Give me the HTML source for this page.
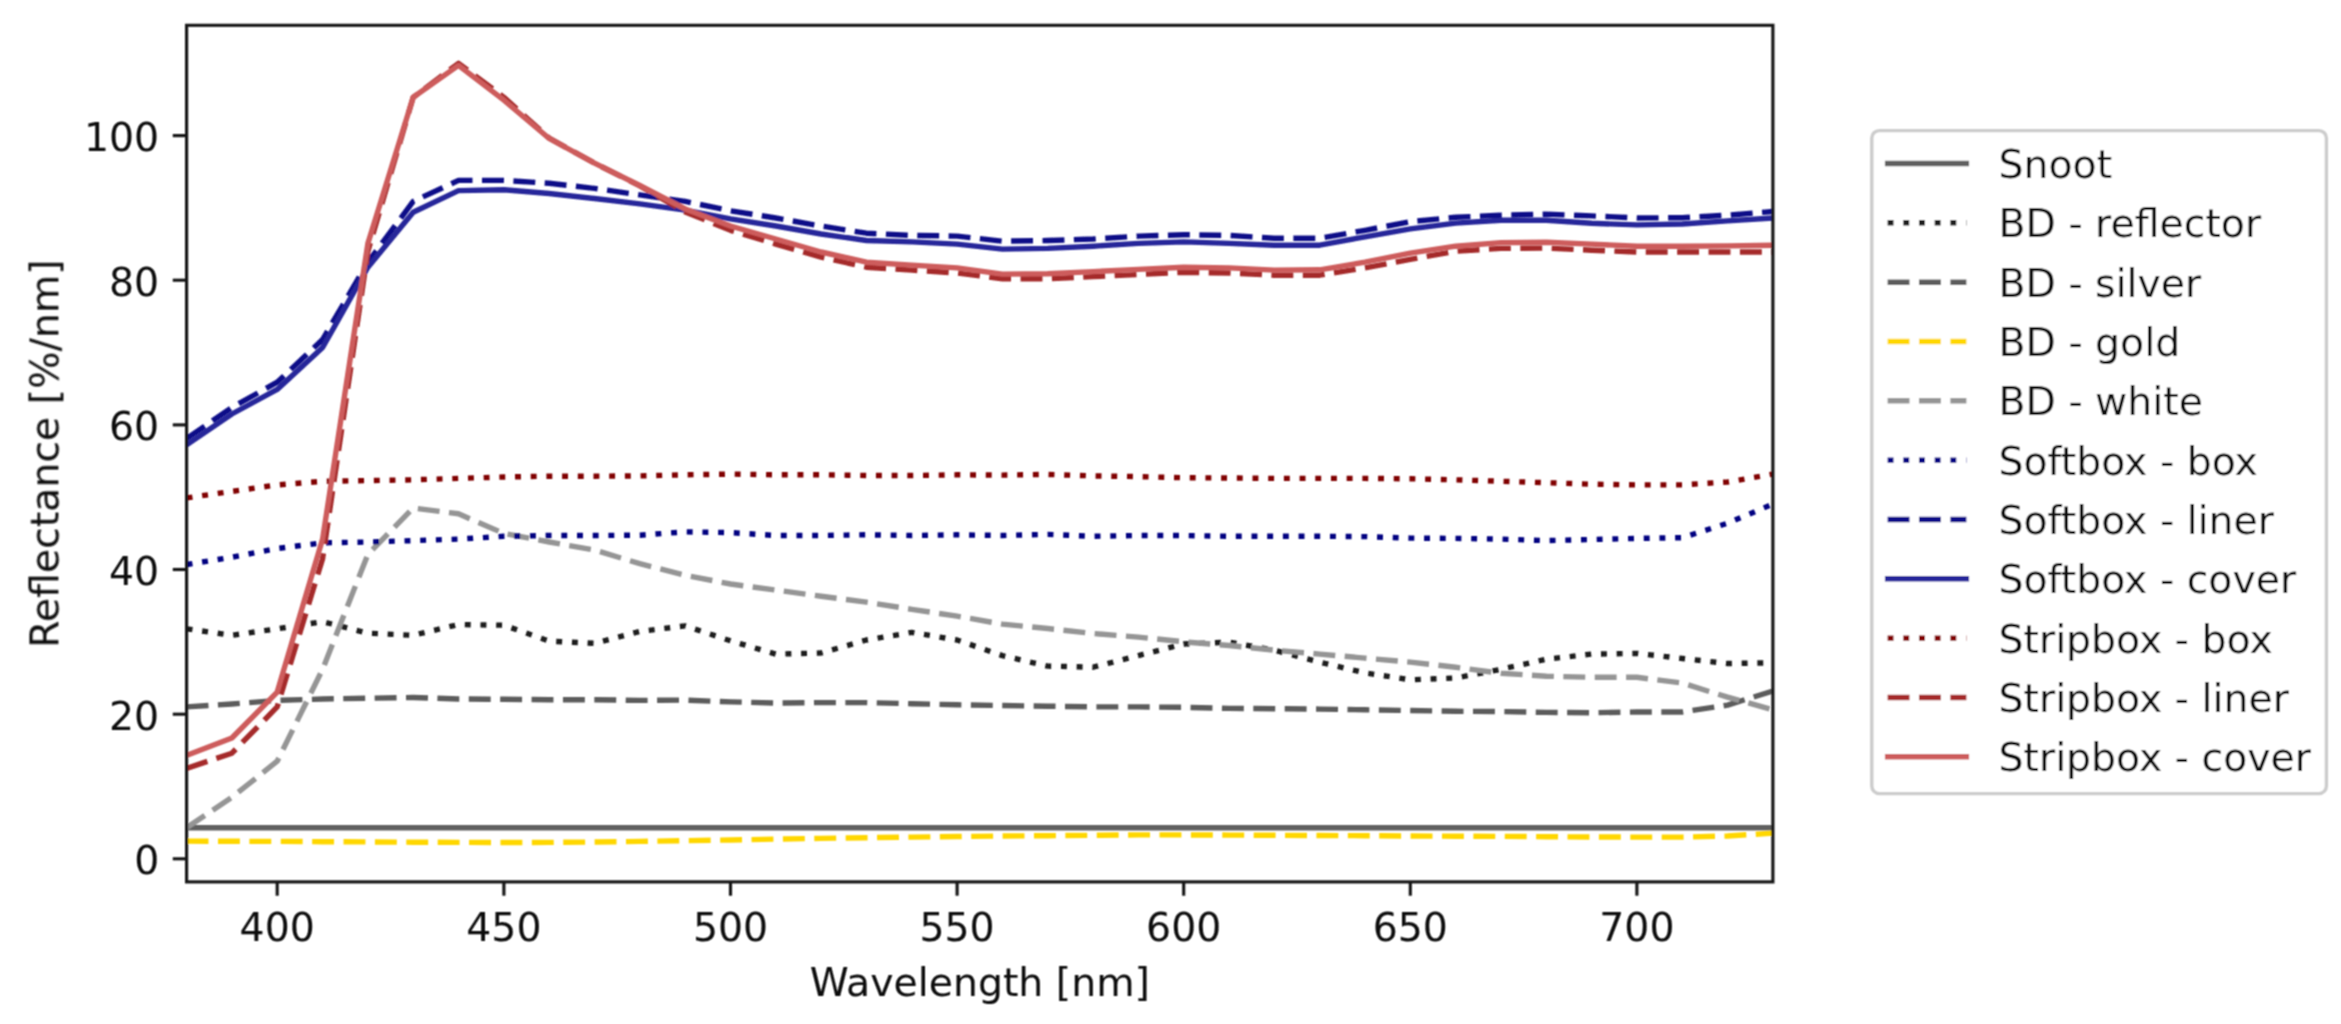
<!DOCTYPE html>
<html><head><meta charset="utf-8"><title>Reflectance</title>
<style>
html,body{margin:0;padding:0;background:#fff;}
body{width:2341px;height:1024px;overflow:hidden;}
svg{display:block;}
svg text{font-family:"DejaVu Sans","Liberation Sans",sans-serif;font-size:39.4px;fill:#0c0c0c;}
</style></head><body>
<svg width="2341" height="1024" viewBox="0 0 2341 1024">
<defs><clipPath id="ax"><rect x="186.6" y="25.3" width="1586.3" height="856.6"/></clipPath><filter id="bl" x="-2%" y="-2%" width="104%" height="104%"><feConvolveMatrix order="3" kernelMatrix="1 2 1 2 4 2 1 2 1" divisor="16" edgeMode="duplicate" preserveAlpha="false"/></filter></defs>
<rect width="2341" height="1024" fill="#fff"/>
<g filter="url(#bl)">
<g clip-path="url(#ax)" fill="none" stroke-width="5.40" stroke-linejoin="round">
<polyline points="186.6,827.7 231.9,827.7 277.2,827.7 322.6,827.7 367.9,827.7 413.2,827.7 458.5,827.7 503.9,827.7 549.2,827.7 594.5,827.7 639.8,827.7 685.2,827.7 730.5,827.7 775.8,827.7 821.1,827.7 866.4,827.7 911.8,827.7 957.1,827.7 1002.4,827.7 1047.7,827.7 1093.1,827.7 1138.4,827.7 1183.7,827.7 1229.0,827.7 1274.3,827.7 1319.7,827.7 1365.0,827.7 1410.3,827.7 1455.6,827.7 1501.0,827.7 1546.3,827.7 1591.6,827.7 1636.9,827.7 1682.3,827.7 1727.6,827.7 1772.9,827.7" stroke="#606060" stroke-linecap="square"/>
<polyline points="186.6,628.8 231.9,635.3 277.2,628.8 322.6,621.6 367.9,633.2 413.2,635.3 458.5,624.5 503.9,625.2 549.2,641.1 594.5,643.3 639.8,631.4 685.2,625.9 730.5,640.8 775.8,654.1 821.1,653.0 866.4,640.0 911.8,632.4 957.1,640.0 1002.4,655.6 1047.7,666.1 1093.1,667.2 1138.4,655.6 1183.7,644.0 1229.0,642.2 1274.3,650.2 1319.7,662.1 1365.0,672.9 1410.3,679.8 1455.6,678.0 1501.0,669.3 1546.3,659.2 1591.6,654.1 1636.9,653.4 1682.3,658.5 1727.6,663.5 1772.9,662.8" stroke="#1a1a1a" stroke-dasharray="5.922 9.771" stroke-linecap="butt"/>
<polyline points="186.6,706.9 231.9,704.0 277.2,700.4 322.6,699.0 367.9,698.2 413.2,697.5 458.5,699.0 503.9,699.3 549.2,699.7 594.5,699.7 639.8,700.4 685.2,700.1 730.5,701.9 775.8,703.0 821.1,702.6 866.4,702.6 911.8,703.7 957.1,704.8 1002.4,705.5 1047.7,706.2 1093.1,706.9 1138.4,706.9 1183.7,707.3 1229.0,708.4 1274.3,708.7 1319.7,709.1 1365.0,709.8 1410.3,710.5 1455.6,711.3 1501.0,711.6 1546.3,712.4 1591.6,712.7 1636.9,712.0 1682.3,712.0 1727.6,705.1 1772.9,691.0" stroke="#5b5b5b" stroke-dasharray="21.911 9.475" stroke-linecap="butt"/>
<polyline points="186.6,841.1 231.9,841.3 277.2,841.4 322.6,841.7 367.9,841.9 413.2,842.2 458.5,842.4 503.9,842.5 549.2,842.4 594.5,842.0 639.8,841.4 685.2,840.7 730.5,840.0 775.8,839.1 821.1,838.4 866.4,837.7 911.8,837.1 957.1,836.5 1002.4,836.0 1047.7,835.7 1093.1,835.3 1138.4,834.9 1183.7,834.9 1229.0,835.1 1274.3,835.3 1319.7,835.5 1365.0,835.7 1410.3,836.0 1455.6,836.2 1501.0,836.4 1546.3,836.7 1591.6,837.0 1636.9,837.1 1682.3,837.1 1727.6,836.0 1772.9,833.1" stroke="#ffd700" stroke-dasharray="21.911 9.475" stroke-linecap="butt"/>
<polyline points="186.6,827.7 231.9,797.3 277.2,761.2 322.6,669.3 367.9,554.3 413.2,508.0 458.5,513.8 503.9,533.4 549.2,542.0 594.5,550.0 639.8,563.7 685.2,575.3 730.5,584.0 775.8,590.1 821.1,596.3 866.4,602.1 911.8,609.3 957.1,616.2 1002.4,624.1 1047.7,628.5 1093.1,633.5 1138.4,637.1 1183.7,641.8 1229.0,645.5 1274.3,650.2 1319.7,654.1 1365.0,658.1 1410.3,662.1 1455.6,667.2 1501.0,673.3 1546.3,676.2 1591.6,677.3 1636.9,677.3 1682.3,683.1 1727.6,697.2 1772.9,709.8" stroke="#959595" stroke-dasharray="21.911 9.475" stroke-linecap="butt"/>
<polyline points="186.6,564.5 231.9,557.2 277.2,548.5 322.6,542.8 367.9,542.0 413.2,540.6 458.5,539.1 503.9,536.3 549.2,535.5 594.5,535.5 639.8,535.2 685.2,531.9 730.5,532.6 775.8,535.5 821.1,535.5 866.4,534.8 911.8,535.5 957.1,534.8 1002.4,535.5 1047.7,534.4 1093.1,536.3 1138.4,535.5 1183.7,535.5 1229.0,536.3 1274.3,536.3 1319.7,536.3 1365.0,536.6 1410.3,538.1 1455.6,538.4 1501.0,539.1 1546.3,540.6 1591.6,539.5 1636.9,538.4 1682.3,537.7 1727.6,523.2 1772.9,504.1" stroke="#000080" stroke-dasharray="5.922 9.771" stroke-linecap="butt"/>
<polyline points="186.6,438.6 231.9,407.5 277.2,382.2 322.6,339.5 367.9,262.2 413.2,201.4 458.5,180.4 503.9,180.4 549.2,183.3 594.5,188.4 639.8,194.9 685.2,201.4 730.5,210.8 775.8,218.0 821.1,226.0 866.4,233.2 911.8,235.4 957.1,236.1 1002.4,241.2 1047.7,240.5 1093.1,239.0 1138.4,236.1 1183.7,234.7 1229.0,235.4 1274.3,238.3 1319.7,238.3 1365.0,230.3 1410.3,221.7 1455.6,217.3 1501.0,215.2 1546.3,214.1 1591.6,215.9 1636.9,218.0 1682.3,217.7 1727.6,215.2 1772.9,211.5" stroke="#111188" stroke-dasharray="21.911 9.475" stroke-linecap="butt"/>
<polyline points="186.6,444.8 231.9,414.0 277.2,389.4 322.6,347.5 367.9,267.2 413.2,212.3 458.5,190.6 503.9,189.8 549.2,193.5 594.5,198.5 639.8,203.9 685.2,210.1 730.5,218.8 775.8,226.0 821.1,234.0 866.4,240.5 911.8,241.9 957.1,244.1 1002.4,249.1 1047.7,248.4 1093.1,246.2 1138.4,243.4 1183.7,241.9 1229.0,243.4 1274.3,245.2 1319.7,245.2 1365.0,236.8 1410.3,228.9 1455.6,223.1 1501.0,220.2 1546.3,220.2 1591.6,223.3 1636.9,224.9 1682.3,224.0 1727.6,220.9 1772.9,218.0" stroke="#27279a" stroke-linecap="square"/>
<polyline points="186.6,497.9 231.9,491.4 277.2,484.9 322.6,481.3 367.9,480.6 413.2,479.8 458.5,478.4 503.9,477.0 549.2,476.2 594.5,476.2 639.8,475.9 685.2,474.8 730.5,474.1 775.8,474.8 821.1,474.8 866.4,475.5 911.8,475.5 957.1,474.8 1002.4,475.1 1047.7,474.4 1093.1,475.9 1138.4,476.6 1183.7,477.7 1229.0,478.0 1274.3,478.4 1319.7,478.4 1365.0,478.4 1410.3,478.8 1455.6,479.8 1501.0,481.3 1546.3,482.7 1591.6,484.2 1636.9,484.9 1682.3,484.9 1727.6,482.0 1772.9,474.1" stroke="#800000" stroke-dasharray="5.922 9.771" stroke-linecap="butt"/>
<polyline points="186.6,768.4 231.9,753.2 277.2,706.9 322.6,558.7 367.9,251.3 413.2,97.3 458.5,63.3 503.9,97.3 549.2,138.1 594.5,163.1 639.8,185.9 685.2,211.9 730.5,230.3 775.8,244.1 821.1,257.1 866.4,267.2 911.8,270.1 957.1,273.0 1002.4,278.8 1047.7,278.8 1093.1,276.6 1138.4,274.5 1183.7,272.3 1229.0,273.0 1274.3,275.2 1319.7,275.2 1365.0,267.9 1410.3,259.3 1455.6,251.3 1501.0,248.4 1546.3,248.1 1591.6,250.2 1636.9,252.0 1682.3,252.0 1727.6,252.0 1772.9,252.0" stroke="#a52a2a" stroke-dasharray="21.911 9.475" stroke-linecap="butt"/>
<polyline points="186.6,755.4 231.9,738.0 277.2,692.1 322.6,539.1 367.9,243.4 413.2,97.3 458.5,65.4 503.9,100.2 549.2,138.5 594.5,163.1 639.8,185.5 685.2,209.0 730.5,226.0 775.8,239.0 821.1,252.0 866.4,262.2 911.8,265.1 957.1,267.9 1002.4,274.1 1047.7,273.7 1093.1,271.6 1138.4,269.4 1183.7,267.2 1229.0,267.9 1274.3,270.1 1319.7,269.8 1365.0,262.2 1410.3,253.1 1455.6,246.2 1501.0,242.6 1546.3,242.3 1591.6,244.1 1636.9,246.2 1682.3,246.2 1727.6,245.9 1772.9,245.2" stroke="#cd5c5c" stroke-linecap="square"/>
</g>
<g stroke="#161616" stroke-width="3.15" fill="none">
<line x1="277.2" y1="881.9" x2="277.2" y2="895.7"/>
<line x1="503.9" y1="881.9" x2="503.9" y2="895.7"/>
<line x1="730.5" y1="881.9" x2="730.5" y2="895.7"/>
<line x1="957.1" y1="881.9" x2="957.1" y2="895.7"/>
<line x1="1183.7" y1="881.9" x2="1183.7" y2="895.7"/>
<line x1="1410.3" y1="881.9" x2="1410.3" y2="895.7"/>
<line x1="1636.9" y1="881.9" x2="1636.9" y2="895.7"/>
<line x1="186.6" y1="858.8" x2="172.8" y2="858.8"/>
<line x1="186.6" y1="714.2" x2="172.8" y2="714.2"/>
<line x1="186.6" y1="569.5" x2="172.8" y2="569.5"/>
<line x1="186.6" y1="424.9" x2="172.8" y2="424.9"/>
<line x1="186.6" y1="280.2" x2="172.8" y2="280.2"/>
<line x1="186.6" y1="135.6" x2="172.8" y2="135.6"/>
<rect x="186.6" y="25.3" width="1586.3" height="856.6" stroke-linejoin="miter"/>
</g>
<text x="277.2" y="940.9" text-anchor="middle">400</text>
<text x="503.9" y="940.9" text-anchor="middle">450</text>
<text x="730.5" y="940.9" text-anchor="middle">500</text>
<text x="957.1" y="940.9" text-anchor="middle">550</text>
<text x="1183.7" y="940.9" text-anchor="middle">600</text>
<text x="1410.3" y="940.9" text-anchor="middle">650</text>
<text x="1636.9" y="940.9" text-anchor="middle">700</text>
<text x="159.2" y="874.2" text-anchor="end">0</text>
<text x="159.2" y="729.6" text-anchor="end">20</text>
<text x="159.2" y="584.9" text-anchor="end">40</text>
<text x="159.2" y="440.3" text-anchor="end">60</text>
<text x="159.2" y="295.6" text-anchor="end">80</text>
<text x="159.2" y="151.0" text-anchor="end">100</text>
<text x="979.8" y="995.9" text-anchor="middle">Wavelength [nm]</text>
<text transform="translate(58.4,453.6) rotate(-90)" text-anchor="middle">Reflectance [%/nm]</text>
<rect x="1871.8" y="130.6" width="454.6" height="663.0" rx="7.5" ry="7.5" fill="#fff" stroke="#cccccc" stroke-width="3.40"/>
<line x1="1887.6" y1="163.5" x2="1966.4" y2="163.5" stroke="#606060" stroke-width="5.40" stroke-linecap="square"/>
<text x="1998.5" y="178.1">Snoot</text>
<line x1="1887.6" y1="222.8" x2="1966.4" y2="222.8" stroke="#1a1a1a" stroke-width="5.40" stroke-dasharray="5.922 9.771"/>
<text x="1998.5" y="237.4">BD - reflector</text>
<line x1="1887.6" y1="282.2" x2="1966.4" y2="282.2" stroke="#5b5b5b" stroke-width="5.40" stroke-dasharray="21.911 9.475"/>
<text x="1998.5" y="296.8">BD - silver</text>
<line x1="1887.6" y1="341.5" x2="1966.4" y2="341.5" stroke="#ffd700" stroke-width="5.40" stroke-dasharray="21.911 9.475"/>
<text x="1998.5" y="356.1">BD - gold</text>
<line x1="1887.6" y1="400.8" x2="1966.4" y2="400.8" stroke="#959595" stroke-width="5.40" stroke-dasharray="21.911 9.475"/>
<text x="1998.5" y="415.4">BD - white</text>
<line x1="1887.6" y1="460.1" x2="1966.4" y2="460.1" stroke="#000080" stroke-width="5.40" stroke-dasharray="5.922 9.771"/>
<text x="1998.5" y="474.8">Softbox - box</text>
<line x1="1887.6" y1="519.5" x2="1966.4" y2="519.5" stroke="#111188" stroke-width="5.40" stroke-dasharray="21.911 9.475"/>
<text x="1998.5" y="534.1">Softbox - liner</text>
<line x1="1887.6" y1="578.8" x2="1966.4" y2="578.8" stroke="#27279a" stroke-width="5.40" stroke-linecap="square"/>
<text x="1998.5" y="593.4">Softbox - cover</text>
<line x1="1887.6" y1="638.1" x2="1966.4" y2="638.1" stroke="#800000" stroke-width="5.40" stroke-dasharray="5.922 9.771"/>
<text x="1998.5" y="652.7">Stripbox - box</text>
<line x1="1887.6" y1="697.5" x2="1966.4" y2="697.5" stroke="#a52a2a" stroke-width="5.40" stroke-dasharray="21.911 9.475"/>
<text x="1998.5" y="712.1">Stripbox - liner</text>
<line x1="1887.6" y1="756.8" x2="1966.4" y2="756.8" stroke="#cd5c5c" stroke-width="5.40" stroke-linecap="square"/>
<text x="1998.5" y="771.4">Stripbox - cover</text>
</g>
</svg>
</body></html>
